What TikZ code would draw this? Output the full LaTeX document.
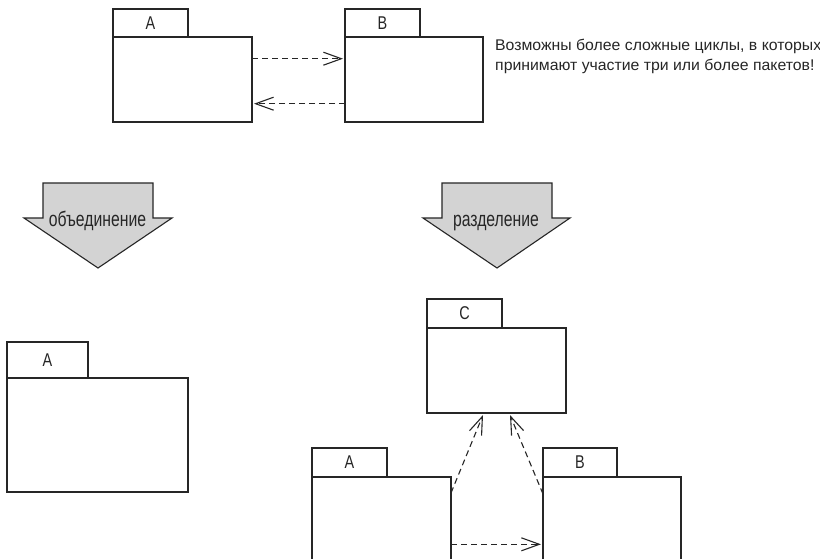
\documentclass[tikz,border=0pt]{standalone}
\usepackage{fontspec}
\setmainfont{Liberation Sans}
\newfontfamily\cond[FakeStretch=0.78]{Liberation Sans}
\newfontfamily\condb[FakeStretch=0.75]{Liberation Sans}
\newfontfamily\notefont[FakeStretch=1.02]{Liberation Sans}
\usetikzlibrary{arrows.meta,calc}
\definecolor{ink}{HTML}{262626}
\definecolor{arrowgray}{HTML}{D3D3D3}
\tikzset{
  pkg/.style={draw=ink, line width=1.2pt, inner sep=0pt, outer sep=0pt, anchor=north west, fill=white},
  tablabel/.style={font=\cond\fontsize{18.5}{20}\selectfont, text=ink},
  dep/.style={draw=ink, line width=1.1pt, dash pattern=on 6pt off 4pt, -{Straight Barb[length=18pt,width=13pt,line width=1.1pt]}},
  bigarrow/.style={draw=ink, line width=1.1pt, fill=arrowgray},
  biglabel/.style={font=\condb\fontsize{21}{22}\selectfont, text=ink, anchor=base},
  note/.style={font=\notefont\fontsize{15.5}{20}\selectfont, text=ink, anchor=base west, inner sep=0pt}
}
\begin{document}
\begin{tikzpicture}[x=1pt,y=-1pt]
\clip (0,0) rectangle (820,558);
\fill[white] (0,0) rectangle (820,558);

% top A
\node[pkg, minimum width=75pt, minimum height=28pt] (tA) at (113,9) {};
\node[tablabel] (tAl) at (tA.center) {A};
\node[pkg, minimum width=139pt, minimum height=85pt] (bA) at (113,37) {};
% top B
\node[pkg, minimum width=75pt, minimum height=28pt] (tB) at (345,9) {};
\node[tablabel] (tBl) at (tB.center) {B};
\node[pkg, minimum width=138pt, minimum height=85pt] (bB) at (345,37) {};

\draw[dep] ([yshift=-21.7pt]bA.north east) -- ([yshift=-21.7pt,xshift=-2pt]bB.north west);
\draw[dep] ([yshift=-66.7pt]bB.north west) -- ([yshift=-66.7pt,xshift=2pt]bA.north east);

% note
\node[note] (n1) at (495,50) {Возможны более сложные циклы, в которых};
\node[note] (n2) at (495,70) {принимают участие три или более пакетов!};

% block arrows
\draw[bigarrow] (43,183) -- (153,183) -- (153,218) -- (172,218) -- (98,268) -- (24,218) -- (43,218) -- cycle;
\node[biglabel] (merge) at (97.5,226) {объединение};
\draw[bigarrow] (442,183) -- (552,183) -- (552,218) -- (570,218) -- (497,268) -- (423,218) -- (442,218) -- cycle;
\node[biglabel] (split) at (496,226) {разделение};

% left result A
\node[pkg, minimum width=81pt, minimum height=36pt] (tA2) at (7,342) {};
\node[tablabel] (tA2l) at (tA2.center) {A};
\node[pkg, minimum width=181pt, minimum height=114pt] (bA2) at (7,378) {};

% C
\node[pkg, minimum width=75pt, minimum height=29pt] (tC) at (427,299) {};
\node[tablabel] (tCl) at (tC.center) {C};
\node[pkg, minimum width=139pt, minimum height=85pt] (bC) at (427,328) {};

% bottom A
\node[pkg, minimum width=75pt, minimum height=29pt] (tA3) at (312,448) {};
\node[tablabel] (tA3l) at (tA3.center) {A};
\node[pkg, minimum width=139pt, minimum height=110pt] (bA3) at (312,477) {};

% bottom B
\node[pkg, minimum width=74pt, minimum height=29pt] (tB3) at (543,448) {};
\node[tablabel] (tB3l) at (tB3.center) {B};
\node[pkg, minimum width=138pt, minimum height=110pt] (bB3) at (543,477) {};

\draw[dep] ([yshift=-16pt]bA3.north east) -- ([xshift=56pt,yshift=-2pt]bC.south west);
\draw[dep] ([yshift=-17pt]bB3.north west) -- ([xshift=83pt,yshift=-2pt]bC.south west);
\draw[dep] ([yshift=-67.3pt]bA3.north east) -- ([yshift=-67.3pt,xshift=-2pt]bB3.north west);
\end{tikzpicture}
\end{document}
